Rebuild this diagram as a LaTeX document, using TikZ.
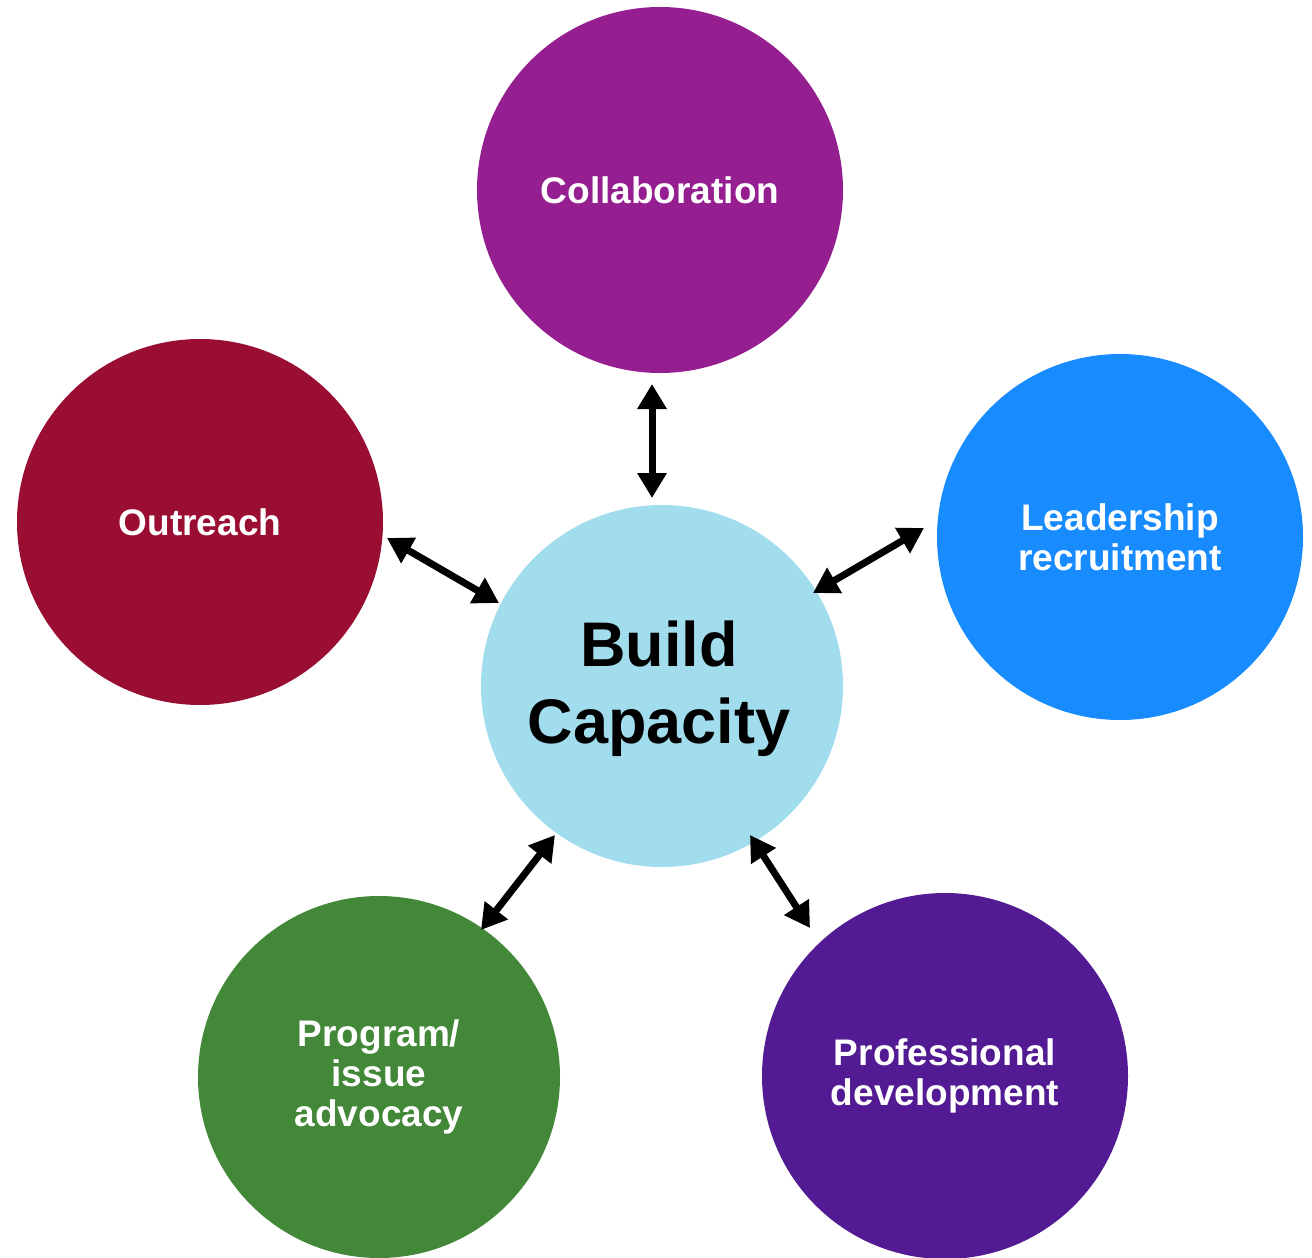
\documentclass[tikz,border=0pt]{standalone}
\usepackage{fontspec}
\setmainfont{Liberation Sans}
\usetikzlibrary{arrows.meta}
\definecolor{cCollab}{HTML}{951F90}
\definecolor{cOut}{HTML}{9B0E33}
\definecolor{cLead}{HTML}{188CFF}
\definecolor{cBuild}{HTML}{A2DDED}
\definecolor{cProg}{HTML}{438739}
\definecolor{cProf}{HTML}{521B93}
\begin{document}
\begin{tikzpicture}[x=1pt,y=-1pt,
  bubble/.style={circle, minimum size=366pt, inner sep=0pt, text=white, align=center,
     font=\fontsize{37}{40}\selectfont\bfseries},
  link/.style={line width=7pt, {Triangle[width=28pt,length=25pt]}-{Triangle[width=28pt,length=25pt]}, black}]
\useasboundingbox (0,0) rectangle (1312,1258);
\node[bubble, fill=cCollab] (collab) at (660,190) {Collaboration};
\node[bubble, fill=cOut] (out) at (200,522) {Outreach};
\node[bubble, fill=cLead] (lead) at (1120,537) {Leadership\\recruitment};
\node[bubble, fill=cBuild, minimum size=362pt] (build) at (662,686) {};
\node[align=center, text=black, font=\fontsize{63}{77}\selectfont\bfseries] (buildlbl) at (659,689) {Build\\Capacity};
\node[bubble, fill=cProg, minimum size=362pt] (prog) at (379,1077) {Program/\\issue\\advocacy};
\node[bubble, fill=cProf] (prof) at (945,1076) {Professional\\development};
\coordinate (a1) at (652,384); \coordinate (b1) at (652,498);
\coordinate (a2) at (387,538); \coordinate (b2) at (499,603);
\coordinate (a3) at (924,528); \coordinate (b3) at (813,593);
\coordinate (a4) at (481,930); \coordinate (b4) at (555,835);
\coordinate (a5) at (810,928); \coordinate (b5) at (750,835);
\draw[link] (a1) -- (b1);
\draw[link] (a2) -- (b2);
\draw[link] (a3) -- (b3);
\draw[link] (a4) -- (b4);
\draw[link] (a5) -- (b5);
\end{tikzpicture}
\end{document}
